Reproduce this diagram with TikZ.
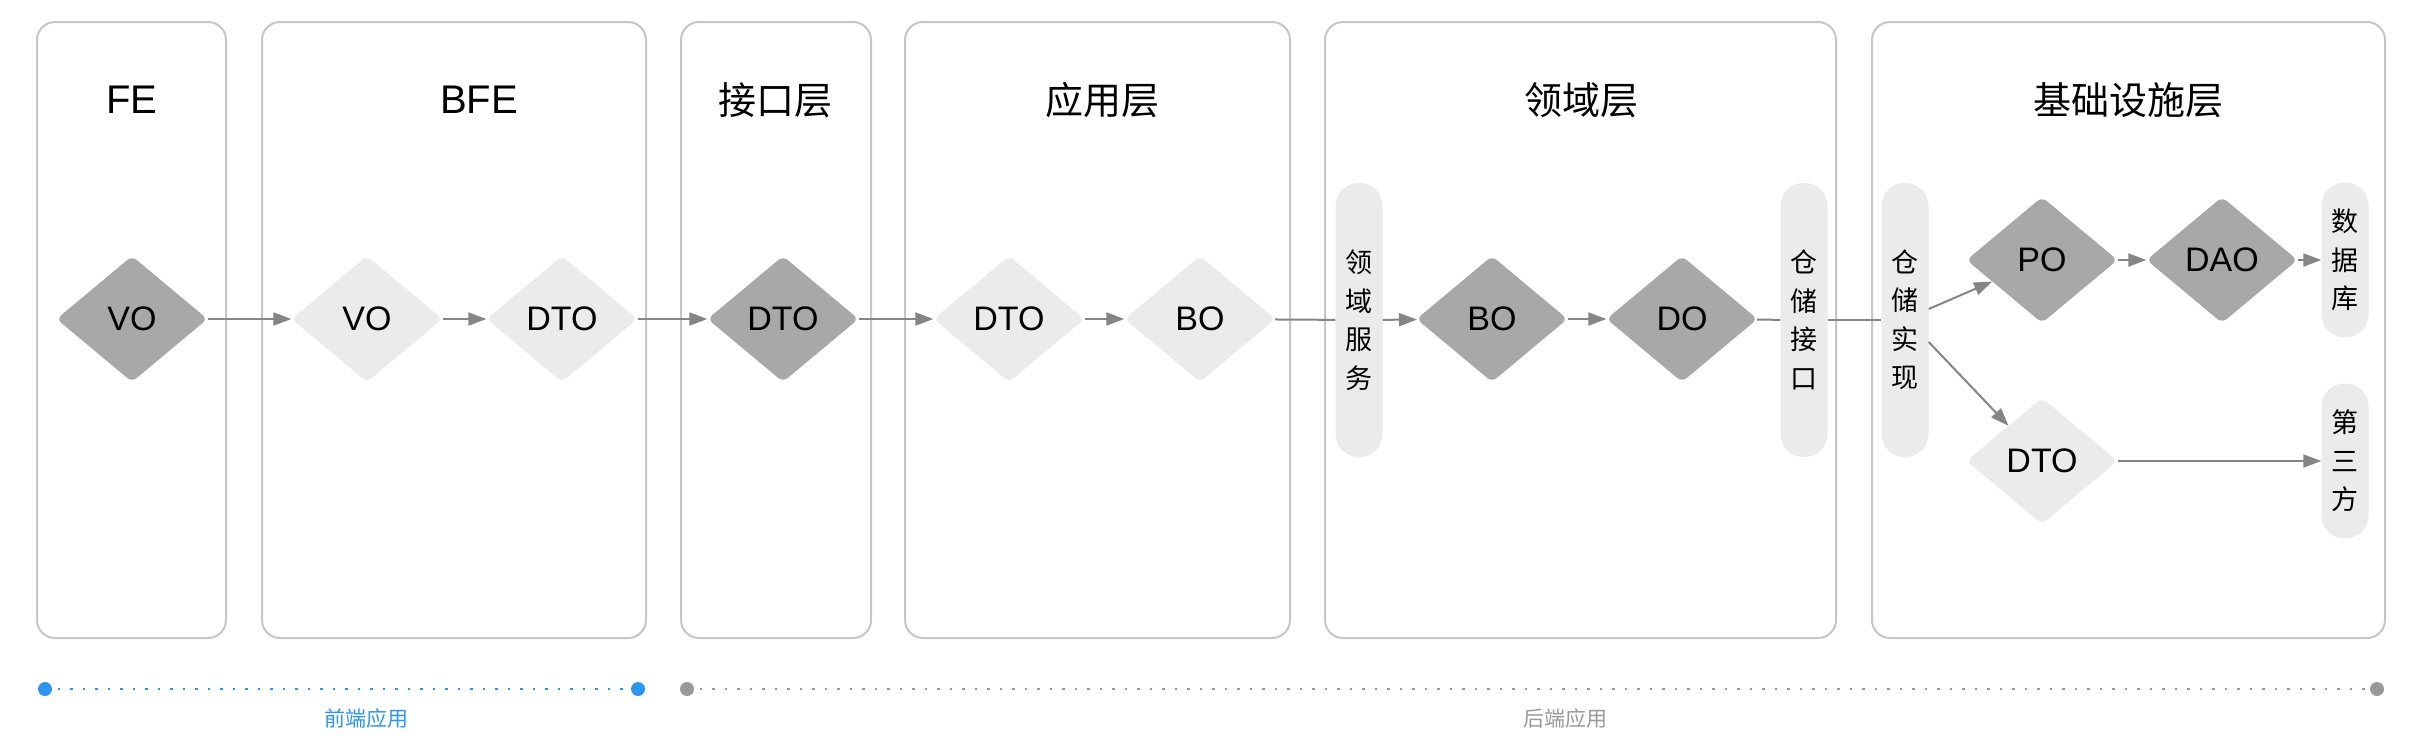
\documentclass[tikz,border=0pt]{standalone}
\usepackage{fontspec}
\setmainfont{Liberation Sans}
\newfontfamily\cjk{Noto Sans CJK SC}
\usetikzlibrary{shapes.geometric,arrows.meta}
\definecolor{boxline}{HTML}{C6C6C6}
\definecolor{darkfill}{HTML}{A8A8A8}
\definecolor{lightfill}{HTML}{EBEBEB}
\definecolor{arrowc}{HTML}{858585}
\definecolor{feblue}{HTML}{2C95F0}
\definecolor{begray}{HTML}{999999}
\begin{document}
\begin{tikzpicture}[x=1pt,y=-1pt,
  layerbox/.style={draw=boxline,line width=2pt,rounded corners=18pt},
  ttl/.style={font=\fontsize{40}{40}\selectfont},
  cttl/.style={font=\cjk\fontsize{38}{38}\selectfont},
  dia/.style={diamond,minimum width=151pt,minimum height=126pt,inner sep=0pt,rounded corners=6pt,font=\fontsize{34}{34}\selectfont},
  dark/.style={dia,fill=darkfill},
  light/.style={dia,fill=lightfill},
  pill/.style={fill=lightfill,rounded corners=23pt,minimum width=47pt,inner sep=0pt,align=center,font=\cjk\fontsize{27}{38.5}\selectfont},
  arr/.style={draw=arrowc,line width=2pt,-{Triangle[length=18pt,width=13pt]}},
  ln/.style={draw=arrowc,line width=2pt},
  bottomlbl/.style={font=\cjk\fontsize{21}{21}\selectfont},
]
\useasboundingbox[fill=white] (0,0) rectangle (2416,740);

% layer boxes
\draw[layerbox] (37,22) rectangle (226,638);
\draw[layerbox] (262,22) rectangle (646,638);
\draw[layerbox] (681,22) rectangle (871,638);
\draw[layerbox] (905,22) rectangle (1290,638);
\draw[layerbox] (1325,22) rectangle (1836,638);
\draw[layerbox] (1872,22) rectangle (2385,638);

% titles
\node[ttl] (tFE) at (132,100) {FE};
\node[ttl] (tBFE) at (479,100) {BFE};
\node[cttl] (tIF) at (775,100) {接口层};
\node[cttl] (tAPP) at (1102,100) {应用层};
\node[cttl] (tDOM) at (1581,100) {领域层};
\node[cttl] (tINF) at (2128,100) {基础设施层};

% diamonds
\node[dark]  (vo1)  at (132,319) {VO};
\node[light] (vo2)  at (367,319) {VO};
\node[light] (dto1) at (562,319) {DTO};
\node[dark]  (dto2) at (783,319) {DTO};
\node[light] (dto3) at (1009,319) {DTO};
\node[light] (bo1)  at (1200,319) {BO};
\node[dark]  (bo2)  at (1492,319) {BO};
\node[dark]  (do)   at (1682,319) {DO};
\node[dark]  (po)   at (2042,260) {PO};
\node[dark]  (dao)  at (2222,260) {DAO};
\node[light] (dto4) at (2042,461) {DTO};

% pills
\node[pill,minimum height=274pt] (ls) at (1359,320) {领\\域\\服\\务};
\node[pill,minimum height=274pt] (ck) at (1804,320) {仓\\储\\接\\口};
\node[pill,minimum height=274pt] (cs) at (1905,320) {仓\\储\\实\\现};
\node[pill,minimum height=155pt] (db) at (2345,260) {数\\据\\库};
\node[pill,minimum height=155pt] (tp) at (2345,461) {第\\三\\方};

% connectors
\draw[arr] (vo1) -- (vo2);
\draw[arr] (vo2) -- (dto1);
\draw[arr] (dto1) -- (dto2);
\draw[arr] (dto2) -- (dto3);
\draw[arr] (dto3) -- (bo1);
\draw[ln]  (bo1) -- (ls);
\draw[arr] (ls) -- (bo2);
\draw[arr] (bo2) -- (do);
\draw[ln]  (do) -- (ck);
\draw[ln]  (ck) -- (cs);
\draw[arr] ([yshift=11pt]cs.east) -- (po);
\draw[arr] ([yshift=-22pt]cs.east) -- (dto4);
\draw[arr] (po) -- (dao);
\draw[arr] (dao) -- (db);
\draw[arr] (dto4) -- (tp);

% bottom ranges
\coordinate (fa) at (45,689);
\coordinate (fb) at (638,689);
\coordinate (ba) at (687,689);
\coordinate (bb) at (2377,689);
\draw[feblue,line width=2pt,dash pattern=on 2.5pt off 10pt] (fa) -- (fb);
\fill[feblue] (fa) circle (7pt);
\fill[feblue] (fb) circle (7pt);
\draw[begray,line width=2pt,dash pattern=on 2.5pt off 10pt] (ba) -- (bb);
\fill[begray] (ba) circle (7pt);
\fill[begray] (bb) circle (7pt);
\node[bottomlbl,text=feblue] (lfe) at (366,718) {前端应用};
\node[bottomlbl,text=begray] (lbe) at (1565,718) {后端应用};
\end{tikzpicture}
\end{document}
